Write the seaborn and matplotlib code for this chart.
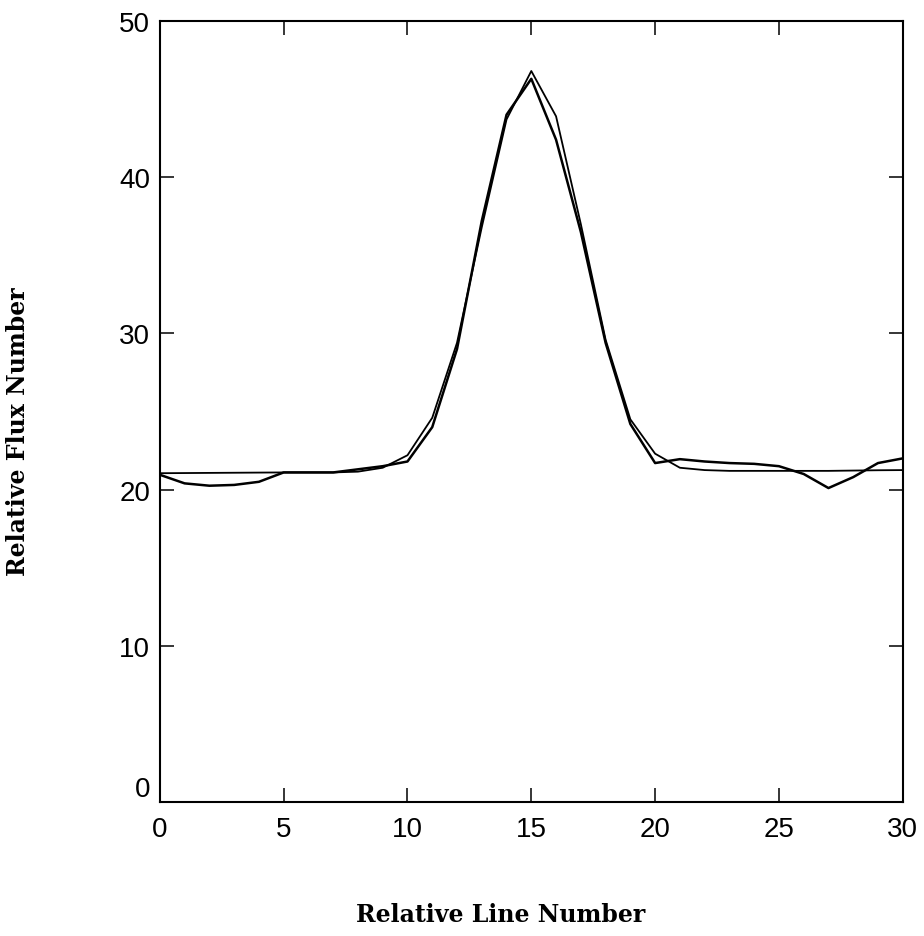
import numpy as np
import pandas as pd
import matplotlib
matplotlib.use("Agg")
import matplotlib.pyplot as plt
import seaborn as sns

# line numbers along the slit
line_number = list(range(0, 31))

# measured flux (the wiggly curve)
flux_data = [20.95, 20.4, 20.25, 20.3, 20.5, 21.1, 21.1, 21.1, 21.3, 21.5,
             21.8, 24.0, 29.0, 37.2, 44.0, 46.3, 42.4, 36.5, 29.4, 24.2,
             21.7, 21.95, 21.8, 21.7, 21.65, 21.5, 21.0, 20.1, 20.8, 21.7,
             22.0]

# fitted profile (smooth curve)
flux_fit = [21.05, 21.06, 21.07, 21.08, 21.09, 21.1, 21.1, 21.1, 21.15, 21.4,
            22.2, 24.6, 29.4, 36.8, 43.7, 46.8, 43.9, 37.0, 29.6, 24.5,
            22.3, 21.4, 21.25, 21.2, 21.2, 21.2, 21.2, 21.2, 21.22, 21.24,
            21.25]

x_ticks = [0, 5, 10, 15, 20, 25, 30]
y_ticks = [0, 10, 20, 30, 40, 50]

df = pd.DataFrame({"line": line_number, "data": flux_data, "fit": flux_fit})

sns.set_style("ticks")
plt.rcParams['font.family'] = ['Liberation Sans', 'DejaVu Sans']

fig = plt.figure(figsize=(9.24, 9.37), dpi=100)
ax = fig.add_axes([0.173, 0.143, 0.804, 0.8335])

sns.lineplot(data=df, x="line", y="fit", color="black", linewidth=1.3, ax=ax)
sns.lineplot(data=df, x="line", y="data", color="black", linewidth=1.8, ax=ax)

ax.set_xlim(0, 30)
ax.set_ylim(0, 50)
ax.set_xticks(x_ticks)
ax.set_yticks(y_ticks)
ax.tick_params(direction="in", length=10, width=1.1, top=True, right=True,
               labelsize=20, pad=10, colors="black")
ax.tick_params(axis="y", pad=7)
for s in ax.spines.values():
    s.set_linewidth(1.5)
    s.set_color("black")

# lift the y "0" label clear of the x "0"
ax.yaxis.get_major_ticks()[0].label1.set_va("bottom")

serif = ['DejaVu Serif']
ax.set_xlabel("Relative Line Number", family=serif, fontweight="bold", fontsize=17, color="black")
ax.set_ylabel("Relative Flux Number", family=serif, fontweight="bold", fontsize=17, color="black")
ax.xaxis.set_label_coords(0.459, -0.128)
ax.yaxis.set_label_coords(-0.175, 0.476)

fig.savefig("out.png", dpi=100, facecolor="white")
